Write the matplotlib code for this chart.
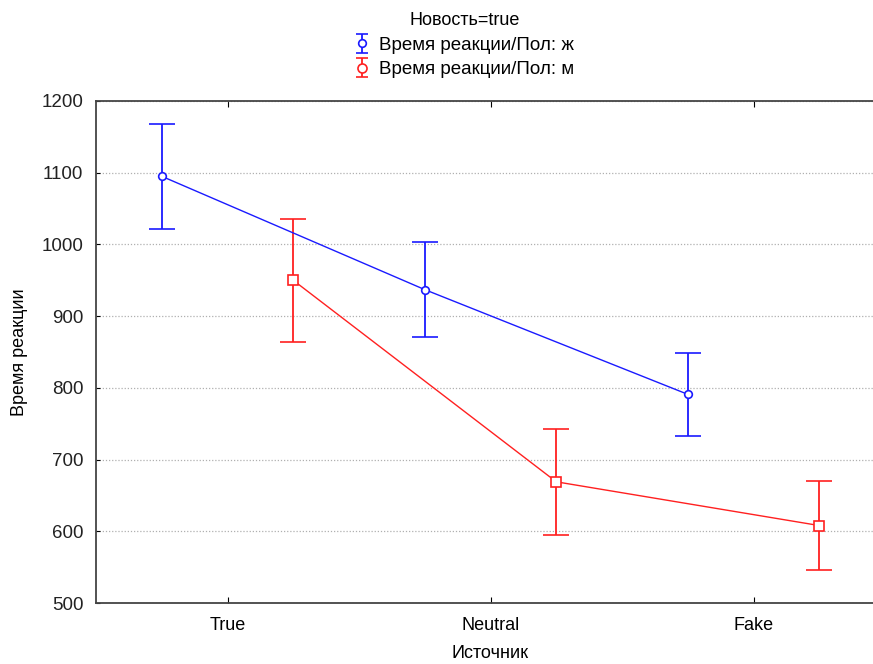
import numpy as np
import matplotlib
matplotlib.use("Agg")
import matplotlib.pyplot as plt

# --- data ---
categories = ["True", "Neutral", "Fake"]
female_mean = [1095, 937, 791]
female_err = [73, 66, 58]
male_mean = [950, 669, 608]
male_err = [86, 74, 62]

legend_title = "Новость=true"
female_label = "Время реакции/Пол: ж"
male_label = "Время реакции/Пол: м"

plt.rcParams["font.family"] = ["Liberation Sans", "DejaVu Sans"]

fig = plt.figure(figsize=(8.73, 6.64), dpi=100)
ax = fig.add_axes([96 / 873, 61 / 664, 789 / 873, 502 / 664])

x = np.arange(len(categories))
off = 0.25

blue = "#1a1aff"
red = "#ff2020"

ax.errorbar(x - off, female_mean, yerr=female_err, color=blue, lw=1.0,
            elinewidth=1.3, capsize=9.5, capthick=1.3, marker="o", ms=5.5,
            mfc="white", mec=blue, mew=1.2, zorder=3)
ax.errorbar(x + off, male_mean, yerr=male_err, color=red, lw=1.0,
            elinewidth=1.3, capsize=9.5, capthick=1.3, marker="s", ms=7,
            mfc="white", mec=red, mew=1.2, zorder=3)

# small proxies for the legend
pf = ax.errorbar([np.nan], [np.nan], yerr=[1], color=blue, lw=0, elinewidth=1.3,
                 capsize=4, capthick=1.3, marker="o", ms=5.5, mfc="white", mec=blue, mew=1.2)
pm = ax.errorbar([np.nan], [np.nan], yerr=[1], color=red, lw=0, elinewidth=1.3,
                 capsize=4, capthick=1.3, marker="o", ms=6.5, mfc="white", mec=red, mew=1.2)

ax.set_xlim(-0.5, 2.5)
ax.set_ylim(500, 1200)
ax.set_yticks(range(500, 1201, 100))
ax.set_xticks(x)
ax.set_xticklabels(categories, fontsize=13)
ax.tick_params(axis="y", labelsize=13.5, length=3, direction="in", pad=9)
ax.tick_params(axis="x", length=4, direction="in", top=True, labeltop=False, pad=10)
for lab in ax.get_yticklabels():
    lab.set_color("#222222")

ax.grid(axis="y", linestyle=(0, (1, 1.5)), color="#b0b0b0", lw=0.9)
ax.set_axisbelow(True)

for s in ["left", "bottom", "top", "right"]:
    ax.spines[s].set_color("#444444")
    ax.spines[s].set_linewidth(1.3)

ax.set_ylabel("Время реакции", fontsize=13, labelpad=10)
ax.set_xlabel("Источник", fontsize=13, labelpad=8)

leg = fig.legend(handles=[pf, pm], labels=[female_label, male_label],
                 title=legend_title, loc="upper center", bbox_to_anchor=(0.532, 1.003),
                 frameon=False, fontsize=13.5, title_fontsize=13,
                 handlelength=0.8, handletextpad=0.5, labelspacing=0.4,
                 borderpad=0.25)

fig.savefig("out.png", dpi=100)
